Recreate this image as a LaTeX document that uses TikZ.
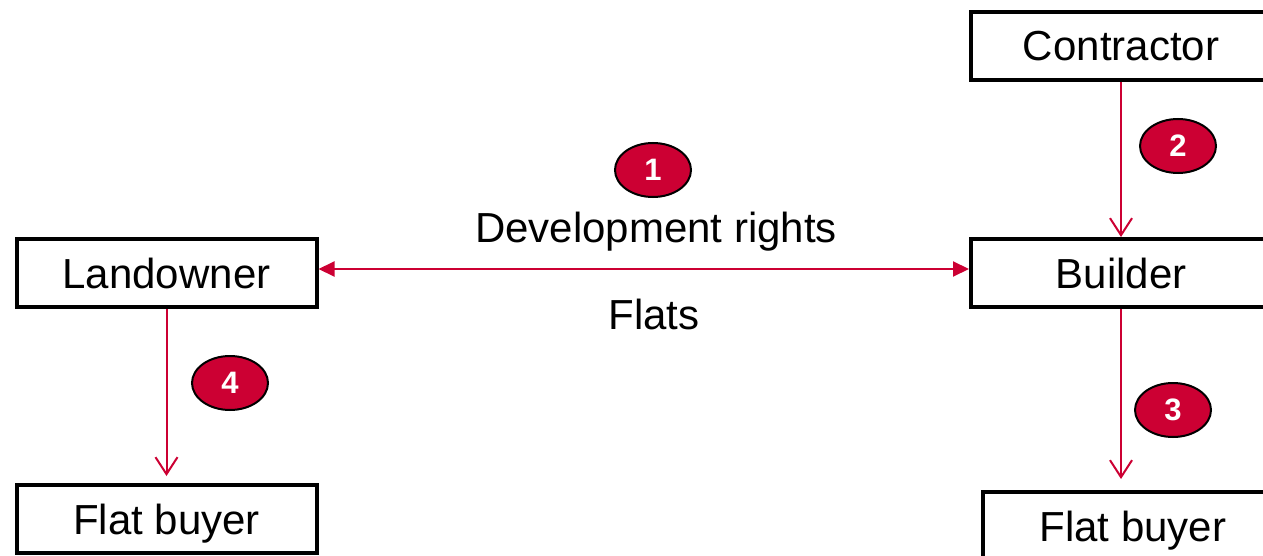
\documentclass[tikz,border=0pt]{standalone}
\usepackage{fontspec}
\setmainfont{Liberation Sans}
\usetikzlibrary{arrows.meta,shapes.geometric}
\definecolor{flowred}{HTML}{CC0033}
\begin{document}
\begin{tikzpicture}[x=1pt,y=-1pt,
  party/.style={draw=black,line width=4pt,fill=white,minimum width=300pt,
    minimum height=68pt,inner sep=0pt,text height=30pt,text depth=0pt,
    font=\fontsize{42}{48}\selectfont},
  flow/.style={draw=flowred,line width=2pt},
  downflow/.style={flow,-{Straight Barb[length=17pt,width=22pt,line width=2pt]}},
  swapflow/.style={flow,{Triangle[length=16pt,width=15pt]}-{Triangle[length=16pt,width=15pt]}},
  marker/.style={ellipse,draw=black,line width=2pt,fill=flowred,text=white,
    minimum width=76pt,minimum height=54pt,inner sep=0pt,
    font=\fontsize{31}{36}\selectfont\bfseries},
  flowtext/.style={font=\fontsize{42}{48}\selectfont,inner sep=0pt,
    text height=30pt,text depth=0pt}]
\useasboundingbox (0,0) rectangle (1263,556);

% parties
\node[party] (land) at (166.5,273) {Landowner};
\node[party] (builder) at (1121,273) {Builder};
\node[party] (contractor) at (1121,46) {Contractor};
\node[party] (buyerL) at (166.5,519) {Flat buyer};
\node[party] (buyerR) at (1133,526) {Flat buyer};

% flows between parties
\draw[swapflow] ([yshift=4pt]land.east) -- ([yshift=4pt]builder.west);
\draw[downflow] (contractor.south) -- (builder.north);
\draw[downflow,shorten >=11pt] (builder.south) -- (builder.south |- buyerR.north);
\draw[downflow,shorten >=7pt] (land.south) -- (buyerL.north);

% flow labels
\node[flowtext] (rights) at (656,227) {Development rights};
\node[flowtext] (flats) at (654,314) {Flats};

% numbered markers
\node[marker] (m1) at (653,170) {1};
\node[marker] (m2) at (1178,146) {2};
\node[marker] (m3) at (1173,410) {3};
\node[marker] (m4) at (230,383) {4};
\end{tikzpicture}
\end{document}
